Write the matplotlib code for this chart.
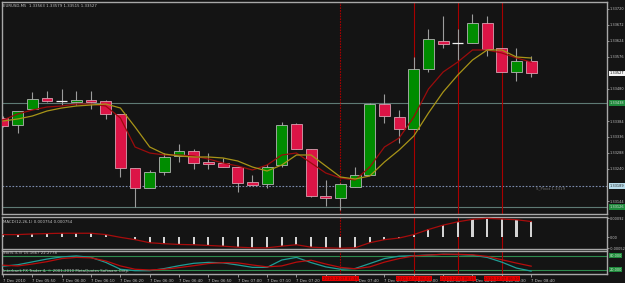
import numpy as np
import matplotlib.pyplot as plt
from matplotlib.transforms import blended_transform_factory

# EURUSD M5, 7 Dec 2010 05:40 - 08:40 (37 bars)
opens = [1.33393, 1.33372, 1.33420, 1.33453, 1.33444, 1.33441, 1.33447, 1.33444, 1.33405, 1.33243,
         1.33183, 1.33231, 1.33279, 1.33294, 1.33261, 1.33258, 1.33246, 1.33201, 1.33195, 1.33252,
         1.33375, 1.33300, 1.33159, 1.33153, 1.33186, 1.33222, 1.33435, 1.33396, 1.33360, 1.33540,
         1.33624, 1.33618, 1.33618, 1.33678, 1.33603, 1.33531, 1.33563]
highs = [1.33399, 1.33414, 1.33471, 1.33474, 1.33480, 1.33474, 1.33474, 1.33447, 1.33405, 1.33243,
         1.33237, 1.33288, 1.33315, 1.33300, 1.33288, 1.33273, 1.33246, 1.33222, 1.33255, 1.33381,
         1.33378, 1.33300, 1.33207, 1.33198, 1.33246, 1.33438, 1.33465, 1.33417, 1.33576, 1.33660,
         1.33699, 1.33660, 1.33705, 1.33699, 1.33603, 1.33603, 1.33579]
lows = [1.33366, 1.33348, 1.33420, 1.33441, 1.33432, 1.33432, 1.33420, 1.33390, 1.33216, 1.33126,
        1.33183, 1.33222, 1.33261, 1.33240, 1.33240, 1.33246, 1.33171, 1.33192, 1.33183, 1.33246,
        1.33300, 1.33156, 1.33129, 1.33117, 1.33186, 1.33222, 1.33378, 1.33318, 1.33360, 1.33531,
        1.33603, 1.33567, 1.33618, 1.33579, 1.33531, 1.33504, 1.33515]
closes = [1.33369, 1.33414, 1.33450, 1.33444, 1.33444, 1.33447, 1.33441, 1.33405, 1.33243, 1.33183,
          1.33231, 1.33276, 1.33294, 1.33258, 1.33255, 1.33246, 1.33198, 1.33192, 1.33246, 1.33372,
          1.33300, 1.33159, 1.33153, 1.33195, 1.33222, 1.33435, 1.33399, 1.33360, 1.33540, 1.33630,
          1.33615, 1.33618, 1.33678, 1.33600, 1.33531, 1.33564, 1.33527]

ma_fast = [1.33387, 1.33405, 1.33417, 1.33426, 1.33429, 1.33435, 1.33435, 1.33429, 1.33393, 1.33306,
           1.33288, 1.33282, 1.33282, 1.33279, 1.33270, 1.33258, 1.33249, 1.33237, 1.33252, 1.33282,
           1.33288, 1.33258, 1.33228, 1.33213, 1.33207, 1.33246, 1.33306, 1.33333, 1.33396, 1.33480,
           1.33531, 1.33561, 1.33597, 1.33597, 1.33588, 1.33573, 1.33561]
ma_slow = [1.33384, 1.33390, 1.33399, 1.33414, 1.33423, 1.33429, 1.33432, 1.33435, 1.33423, 1.33366,
           1.33306, 1.33285, 1.33279, 1.33276, 1.33276, 1.33273, 1.33264, 1.33246, 1.33234, 1.33252,
           1.33282, 1.33282, 1.33249, 1.33216, 1.33210, 1.33219, 1.33261, 1.33297, 1.33339, 1.33408,
           1.33471, 1.33522, 1.33567, 1.33597, 1.33597, 1.33576, 1.33573]

macd = [0.000131, 0.000131, 0.000160, 0.000179, 0.000194, 0.000194, 0.000194, 0.000131, 0.0, -0.000111,
        -0.000257, -0.000305, -0.000339, -0.000353, -0.000387, -0.000421, -0.000469, -0.000499, -0.000499,
        -0.000421, -0.000353, -0.000469, -0.000499, -0.000518, -0.000499, -0.000257, -0.000111, -0.000034,
        0.000131, 0.000373, 0.000581, 0.000740, 0.000857, 0.000905, 0.000871, 0.000837, 0.000754]

sto_main = [36, 42, 54, 66, 75, 79, 73, 52, 23, 17, 17, 26, 38, 48, 52, 50, 41, 31, 31, 62,
            73, 51, 33, 23, 26, 47, 68, 78, 80, 83, 86, 85, 82, 73, 53, 28, 15.17]
sto_signal = [40, 37, 45, 55, 68, 73, 71, 58, 37, 23, 20, 23, 30, 38, 47, 51, 50, 41, 33, 37,
              53, 61, 45, 31, 25, 33, 53, 68, 79, 83, 86, 86, 84, 77, 63, 49, 36]

# time labels every 2 bars ('' where the label is hidden under a marker box)
time_labels = ['7 Dec 2010', '7 Dec 05:50', '7 Dec 06:00', '7 Dec 06:10', '7 Dec 06:20', '7 Dec 06:30',
               '7 Dec 06:40', '7 Dec 06:50', '7 Dec 07:00', '7 Dec 07:10', '7 Dec 07:20', '',
               '7 Dec 07:40', '7 Dec 07:50', '7 Dec 08:00', '7 Dec 08:10', '7 Dec 08:20', '7 Dec 08:30',
               '7 Dec 08:40']
vline_bars = [23, 28, 31, 34]
vline_labels = ['2010.12.07 07:35', '2010.12.07 08:00', '2010.12.07 08:15', '2010.12.07 08:30']

price_ticks = [1.33720, 1.33672, 1.33624, 1.33576, 1.33480, 1.33384, 1.33336, 1.33288, 1.33240, 1.33144]
level_line = 1.33438
bottom_line = 1.33126
pivot = 1.33189
last_price = 1.33527

W, H = 625, 283
BG = '#141414'
FG = '#c4c4c4'
FS = 2.8
FS_R = 2.5


def box(x0, y0, x1, y1):
    return [x0 / W, 1 - y1 / H, (x1 - x0) / W, (y1 - y0) / H]


def style(a):
    a.set_facecolor(BG)
    for s in a.spines.values():
        s.set_color('#a8a8a8')
        s.set_linewidth(1.0)
    a.yaxis.tick_right()
    a.tick_params(axis='y', colors=FG, labelsize=FS_R, length=1.5, width=0.5, pad=0.6)
    a.tick_params(axis='x', colors=FG, labelsize=FS, length=2, width=0.5, pad=1.5)


def right_box(a, y, text, fc, tc):
    tr = blended_transform_factory(a.transAxes, a.transData)
    a.text(1.004, y, text, transform=tr, fontsize=FS_R, color=tc, va='center', ha='left',
           bbox=dict(boxstyle='square,pad=0.15', fc=fc, ec='none'), clip_on=False, zorder=10)


fig = plt.figure(figsize=(6.25, 2.83), dpi=100, facecolor=BG)
ax = fig.add_axes(box(2, 2, 607, 214))
ax_m = fig.add_axes(box(2, 217, 607, 248.5), sharex=ax)
ax_s = fig.add_axes(box(2, 250.5, 607, 274), sharex=ax)
for a in (ax, ax_m, ax_s):
    style(a)

x = np.arange(len(opens))
o = np.array(opens)
c = np.array(closes)

# candles
ax.vlines(x, lows, highs, color='#9c9c9c', lw=0.8, zorder=2)
up = c > o
dn = c < o
ax.bar(x[up], (c - o)[up], bottom=o[up], width=0.74, color='#008c00', edgecolor='#b4b4b4', lw=0.6, zorder=3)
ax.bar(x[dn], (o - c)[dn], bottom=c[dn], width=0.74, color='#dc1446', edgecolor='#d8a0b0', lw=0.6, zorder=3)
doji = c == o
ax.hlines(c[doji], x[doji] - 0.37, x[doji] + 0.37, color='#f0f0f0', lw=0.9, zorder=3)

ax.plot(x, ma_fast, color='#9a0c0c', lw=0.9, zorder=4)
ax.plot(x, ma_slow, color='#a89418', lw=0.9, zorder=4)

ax.axhline(level_line, color='#5e7a74', lw=0.8, zorder=1)
ax.axhline(bottom_line, color='#5e7a74', lw=0.8, zorder=1)
ax.axhline(pivot, color='#7c8cae', lw=0.8, ls=(0, (1.5, 1.5)), zorder=1)
ax.text(36.3, pivot, 'S_Pivot 1.3319', fontsize=FS, color='#707070', va='top', ha='left')

ax.set_ylim(1.33105, 1.33741)
ax.set_xlim(-0.07, 41.17)
ax.set_yticks(price_ticks)
ax.set_yticklabels([f'{p:.5f}' for p in price_ticks])
ax.tick_params(axis='x', labelbottom=False, length=0)
ax.text(0.002, 0.992, 'EURUSD,M5  1.33563 1.33579 1.33515 1.33527', transform=ax.transAxes,
        fontsize=FS, color=FG, va='top', ha='left')
right_box(ax, last_price, f'{last_price:.5f}', '#f4f4f4', '#000000')
right_box(ax, level_line, f'{level_line:.5f}', '#1f8a3c', '#e0e0e0')
right_box(ax, pivot, f'{pivot:.5f}', '#b8dcea', '#202020')
right_box(ax, bottom_line, f'{bottom_line:.5f}', '#1f8a3c', '#e0e0e0')

# MACD
ax_m.bar(x, macd, width=0.14, color='#d4d4d4', zorder=2)
ax_m.plot(x, macd, color='#a80c0c', lw=0.9, zorder=3)
ax_m.set_ylim(-0.000532, 0.000968)
ax_m.set_yticks([0.00092, 0.0, -0.00052])
ax_m.set_yticklabels(['0.00092', '0.00', '-0.00052'])
ax_m.tick_params(axis='x', labelbottom=False, length=0)
ax_m.text(0.002, 0.92, 'MACD(12,26,1) 0.000754 0.000754', transform=ax_m.transAxes,
          fontsize=FS, color=FG, va='top', ha='left')

# Stochastic
ax_s.axhline(80, color='#2e8a4e', lw=0.8, zorder=1)
ax_s.axhline(20, color='#2e8a4e', lw=0.8, zorder=1)
ax_s.plot(x, sto_main, color='#1f9e96', lw=0.9, zorder=3)
ax_s.plot(x, sto_signal, color='#b80c0c', lw=0.9, zorder=3)
ax_s.set_ylim(3, 102)
ax_s.set_yticks([])
right_box(ax_s, 80, '80.000', '#1f8a3c', '#d0f0d0')
right_box(ax_s, 20, '20.000', '#1f8a3c', '#d0f0d0')
ax_s.text(0.002, 0.97, 'Sto(5,3,3) 15.1667 22.2778', transform=ax_s.transAxes,
          fontsize=FS, color=FG, va='top', ha='left')
ax_s.text(0.002, 0.04, 'Interbank FX Trader 4, \u00a9 2001-2010 MetaQuotes Software Corp.',
          transform=ax_s.transAxes, fontsize=FS, color=FG, va='bottom', ha='left', zorder=5)

ax_s.set_xticks(x[::2])
ax_s.set_xticklabels(time_labels, ha='left')

# vertical time lines
for k, b in enumerate(vline_bars):
    ls = (0, (1.5, 1)) if k == 0 else '-'
    for a in (ax, ax_m, ax_s):
        a.axvline(b, color='#a80000', lw=0.8, ls=ls, zorder=1)
    tr = blended_transform_factory(ax_s.transData, ax_s.transAxes)
    ax_s.text(b, -0.2, vline_labels[k], transform=tr, fontsize=FS, color='#7a0000',
              ha='center', va='center', clip_on=False, zorder=10,
              bbox=dict(boxstyle='square,pad=0.2', fc='#e80000', ec='none'))

fig.savefig('out.png', dpi=100, facecolor=BG)
